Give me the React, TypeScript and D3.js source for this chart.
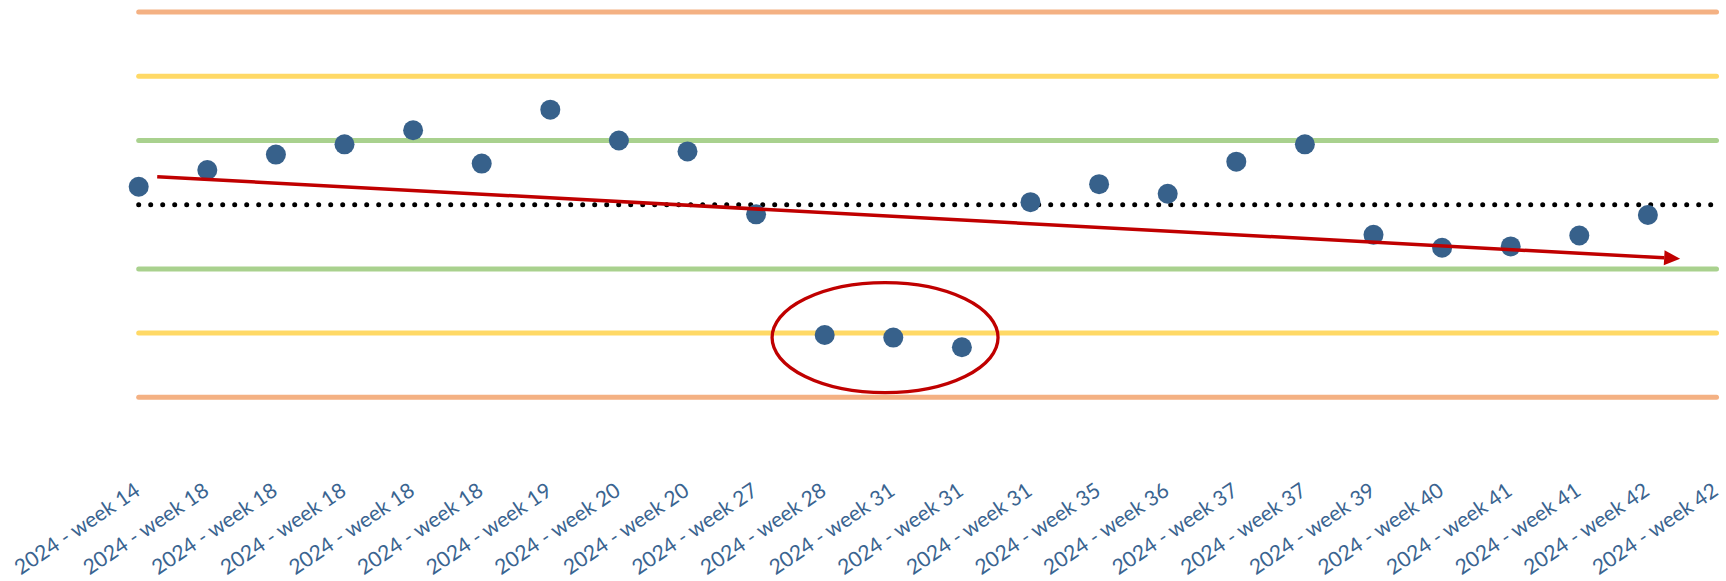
import React from "react";
import * as d3 from "d3";

const categories: string[] = [
  "2024 - week 14", "2024 - week 18", "2024 - week 18", "2024 - week 18",
  "2024 - week 18", "2024 - week 18", "2024 - week 19", "2024 - week 20",
  "2024 - week 20", "2024 - week 27", "2024 - week 28", "2024 - week 31",
  "2024 - week 31", "2024 - week 31", "2024 - week 35", "2024 - week 36",
  "2024 - week 37", "2024 - week 37", "2024 - week 39", "2024 - week 40",
  "2024 - week 41", "2024 - week 41", "2024 - week 42", "2024 - week 42",
];

// measured values, in standard deviations from the mean
const values: (number | null)[] = [
  0.28, 0.54, 0.78, 0.94, 1.16, 0.64, 1.48, 1.0, 0.83, -0.15, -2.03, -2.07,
  -2.22, 0.04, 0.32, 0.17, 0.67, 0.94, -0.47, -0.67, -0.65, -0.48, -0.16, null,
];

const mean = 0;
const limitLevels = [3, 2, 1, -1, -2, -3];
const limitColors = ["#F4B183", "#FFD966", "#A9D18E", "#A9D18E", "#FFD966", "#F4B183"];

// annotations (category index, value)
const trendStart = [0.27, 0.436];
const trendEnd = [22.47, -0.841];
const highlightCenter = [10.88, -2.07];
const highlightRadii = [1.647, 0.857];

const W = 1726;
const H = 581;

export default function App() {
  const x = d3.scaleLinear().domain([0, categories.length - 1]).range([138.7, 1716.5]);
  const y = d3.scaleLinear().domain([-3, 3]).range([397.3, 12.1]);

  const hx = x(trendEnd[0]);
  const hy = y(trendEnd[1]);
  const sx = x(trendStart[0]);
  const sy = y(trendStart[1]);
  const ang = Math.atan2(hy - sy, hx - sx);
  const headLen = 16;
  const headHalf = 7.5;
  const bx = hx - headLen * Math.cos(ang);
  const by = hy - headLen * Math.sin(ang);
  const head = [
    [hx, hy],
    [bx - headHalf * Math.sin(ang), by + headHalf * Math.cos(ang)],
    [bx + headHalf * Math.sin(ang), by - headHalf * Math.cos(ang)],
  ];

  const x0 = x(0);
  const x1 = x(categories.length - 1);

  return (
    <div style={{ position: "absolute", left: 0, top: 0, width: W, height: H, background: "#fff" }}>
      <svg width={W} height={H} style={{ display: "block" }}>
        {limitLevels.map((lv, i) => (
          <line
            key={"l" + i}
            x1={x0}
            x2={x1}
            y1={y(lv)}
            y2={y(lv)}
            stroke={limitColors[i]}
            strokeWidth={5}
            strokeLinecap="round"
          />
        ))}
        <line
          x1={x0}
          x2={x1}
          y1={y(mean)}
          y2={y(mean)}
          stroke="#000"
          strokeWidth={5}
          strokeLinecap="round"
          strokeDasharray="0 12"
        />
        {values.map((v, i) =>
          v == null ? null : (
            <circle key={"p" + i} cx={x(i)} cy={y(v)} r={10} fill="#37618B" />
          )
        )}
        <line x1={sx} y1={sy} x2={bx} y2={by} stroke="#C00000" strokeWidth={3.5} />
        <polygon points={head.map((p) => p.join(",")).join(" ")} fill="#C00000" />
        <ellipse
          cx={x(highlightCenter[0])}
          cy={y(highlightCenter[1])}
          rx={x(highlightRadii[0]) - x(0)}
          ry={y(0) - y(highlightRadii[1])}
          fill="none"
          stroke="#C00000"
          strokeWidth={3.3}
        />
        {categories.map((c, i) => (
          <text
            key={"t" + i}
            transform={`translate(${x(i) + 3},${494}) rotate(-34)`}
            textAnchor="end"
            fontFamily="Lato, 'Open Sans', sans-serif"
            fontSize={21}
            fill="#3A6490"
          >
            {c}
          </text>
        ))}
      </svg>
    </div>
  );
}
